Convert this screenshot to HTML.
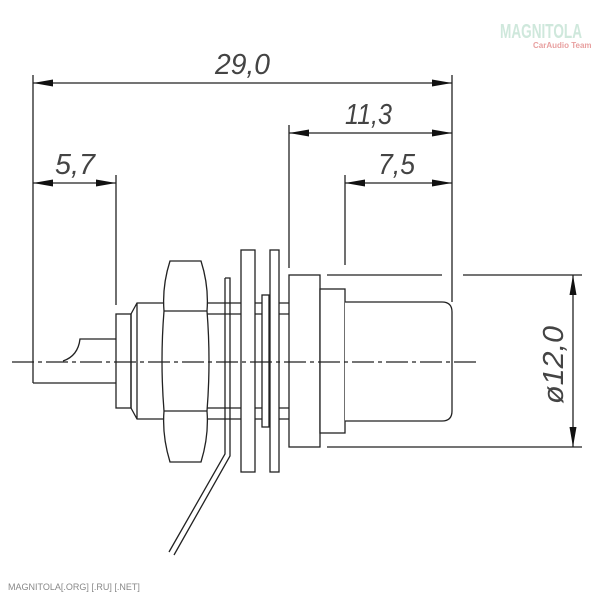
<!DOCTYPE html>
<html><head><meta charset="utf-8"><style>
html,body{margin:0;padding:0;background:#fff;width:600px;height:600px;overflow:hidden}
svg{display:block}
text{font-family:"Liberation Sans",sans-serif;font-style:italic;fill:#444}
</style></head><body>
<svg width="600" height="600" viewBox="0 0 600 600" xmlns="http://www.w3.org/2000/svg">
<defs>
<marker id="a" viewBox="0 0 20 7" refX="20" refY="3.5" markerWidth="20" markerHeight="7" markerUnits="userSpaceOnUse" orient="auto-start-reverse"><path d="M0,0 L20,3.5 L0,7 Z" fill="#111"/></marker>
</defs>
<g stroke="#222" stroke-width="1.3" fill="none">
<line x1="33" y1="75" x2="33" y2="383"/>
<line x1="452" y1="75" x2="452" y2="302"/>
<line x1="116" y1="175" x2="116" y2="305"/>
<line x1="289" y1="125" x2="289" y2="268"/>
<line x1="345" y1="175" x2="345" y2="265"/>
<line x1="327" y1="275" x2="442" y2="275"/>
<line x1="463" y1="275" x2="582" y2="275"/>
<line x1="327" y1="447" x2="582" y2="447"/>
<line x1="33" y1="83" x2="452" y2="83" marker-start="url(#a)" marker-end="url(#a)"/>
<line x1="289" y1="133" x2="452" y2="133" marker-start="url(#a)" marker-end="url(#a)"/>
<line x1="345" y1="183" x2="452" y2="183" marker-start="url(#a)" marker-end="url(#a)"/>
<line x1="33" y1="183" x2="116" y2="183" marker-start="url(#a)" marker-end="url(#a)"/>
<line x1="573" y1="275" x2="573" y2="447" marker-start="url(#a)" marker-end="url(#a)"/>
<path d="M116,339 H80 Q78,356 63,361"/>
<line x1="33" y1="383" x2="116" y2="383"/>
<rect x="116" y="314" width="15" height="94"/>
<path d="M131,314 L137,303 H163 M131,408 L137,419 H163 M137,303 V419 M131,314 V408"/>
<path d="M170,261 H201 Q209,286 207,311 Q211,361 207,411 Q209,436 201,462 H170 Q162,436 164,411 Q160,361 164,311 Q162,286 170,261 Z"/>
<path d="M164,311 H207 M164,411 H207"/>
<path d="M207,303 H289 M207,314 H289 M207,408 H289 M207,419 H289"/>
<path d="M225,278 H230 V456 L174,555 M225,278 V454 L169,552"/>
<rect x="241" y="250" width="14" height="222" fill="#fff"/>
<rect x="262" y="295" width="7" height="132" fill="#fff"/>
<rect x="270" y="250" width="9" height="222" fill="#fff"/>
<rect x="289" y="275" width="31" height="172" fill="#fff"/>
<rect x="320" y="289" width="25" height="144" fill="#fff"/>
<path d="M345,302 H442 Q452,302 452,312 V411 Q452,421 442,421 H345" fill="#fff"/>
</g>
<line x1="12" y1="362" x2="478" y2="362" stroke="#222" stroke-width="1.2" stroke-dasharray="22,4,4,4"/>
<g font-size="29">
<text x="215" y="74" textLength="55" lengthAdjust="spacingAndGlyphs">29,0</text>
<text x="345" y="124" textLength="47" lengthAdjust="spacingAndGlyphs">11,3</text>
<text x="55" y="174" textLength="40" lengthAdjust="spacingAndGlyphs">5,7</text>
<text x="378" y="174" textLength="37" lengthAdjust="spacingAndGlyphs">7,5</text>
<text transform="translate(563,404) rotate(-90)" textLength="78" lengthAdjust="spacingAndGlyphs">ø12,0</text>
</g>
<text x="500" y="38" font-size="20" style="font-style:normal;fill:#cfe8dc" font-weight="bold" textLength="82" lengthAdjust="spacingAndGlyphs">MAGNITOLA</text>
<text x="533" y="48" font-size="8" style="font-style:normal;fill:#e8a0a0" font-weight="bold">CarAudio Team</text>
<text x="8" y="590" font-size="9" style="font-style:normal;fill:#888">MAGNITOLA[.ORG] [.RU] [.NET]</text>
</svg>
</body></html>
